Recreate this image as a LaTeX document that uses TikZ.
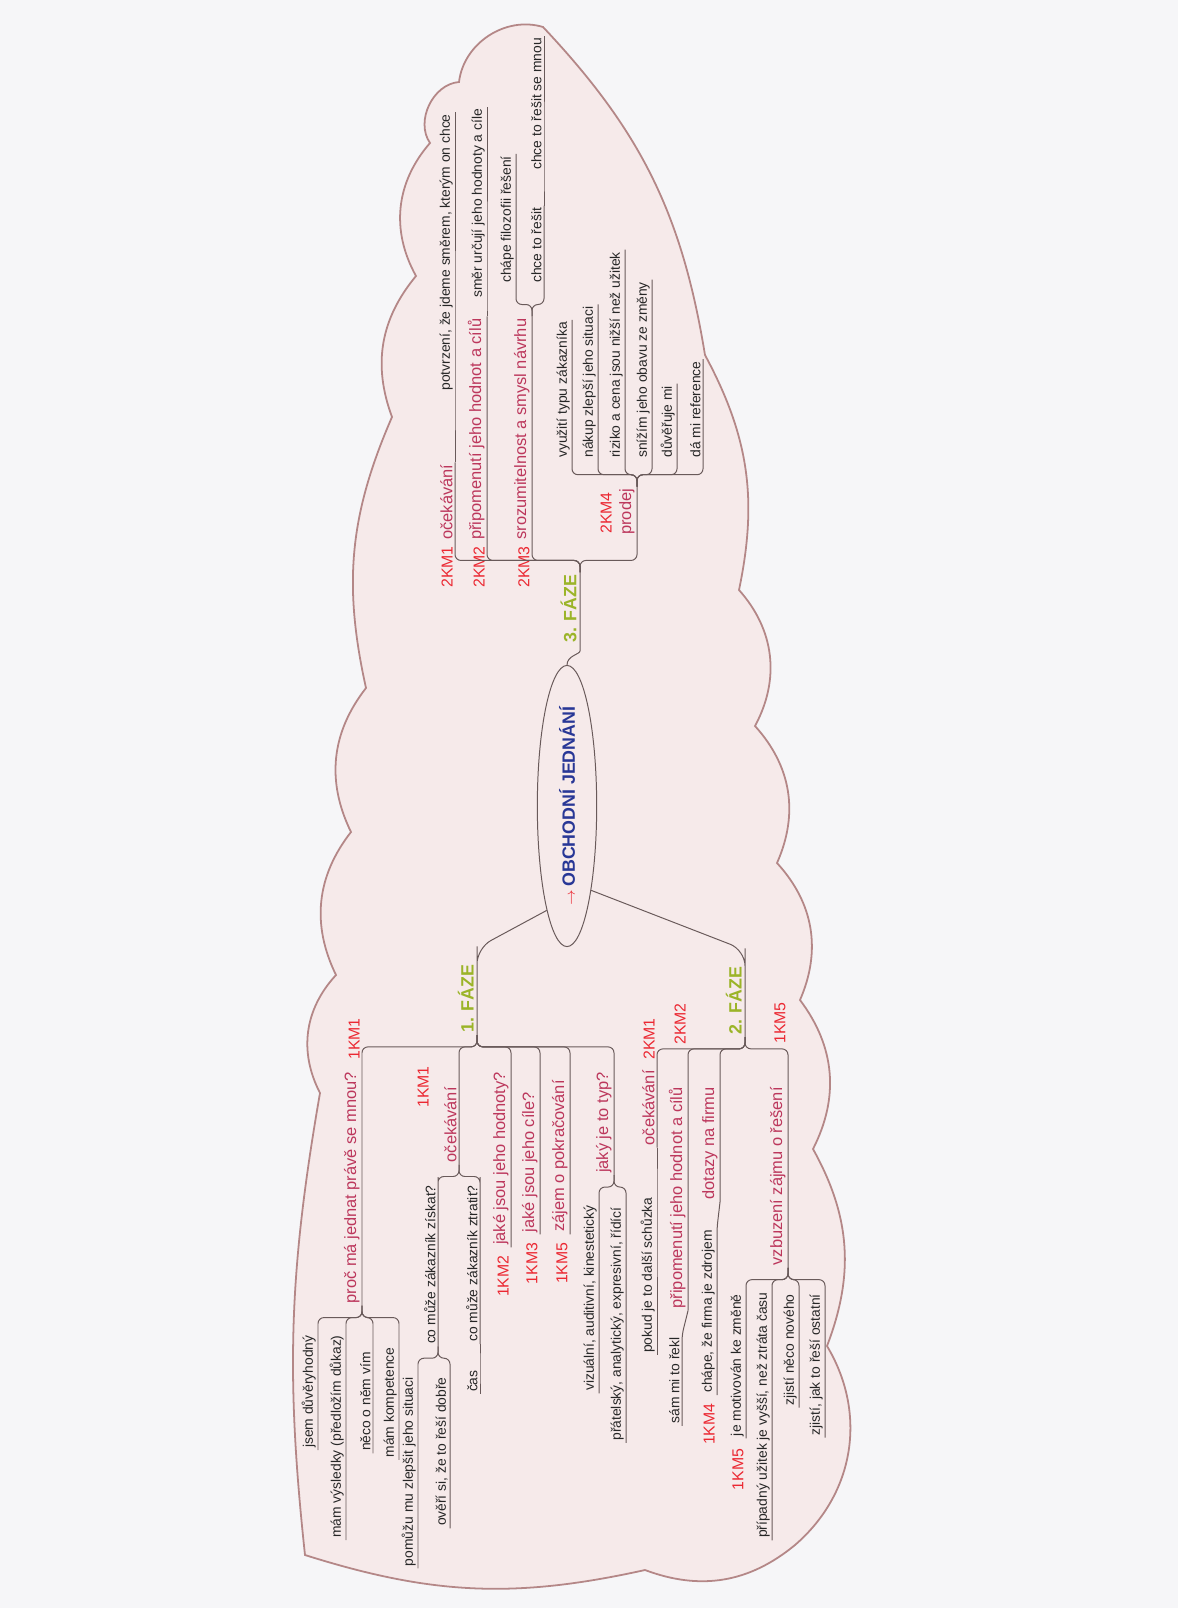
\documentclass[tikz,border=0pt]{standalone}
\usepackage{fontspec}
\setmainfont{Liberation Sans}
\usetikzlibrary{shapes.geometric}

\definecolor{pagec}{RGB}{246,246,248}
\definecolor{cloudfill}{RGB}{246,234,234}
\definecolor{clouddraw}{RGB}{180,135,135}
\definecolor{linec}{RGB}{105,90,90}
\definecolor{keyc}{RGB}{188,55,92}
\definecolor{redc}{RGB}{235,40,50}
\definecolor{fazec}{RGB}{155,180,40}
\definecolor{rootc}{RGB}{40,55,150}

\tikzset{
  conn/.style={draw=linec, line width=0.5pt, rounded corners=3pt},
  txt/.style={rotate=90, anchor=south west, inner xsep=1pt, inner ysep=1pt,
    text=black!85, font=\fontsize{7}{8}\selectfont},
  key/.style={txt, text=keyc, font=\fontsize{8.3}{9}\selectfont},
  km/.style={rotate=90, inner xsep=1pt, inner ysep=1pt, text=redc,
    font=\fontsize{8}{9}\selectfont},
  faze/.style={txt, inner ysep=1.5pt, text=fazec, font=\fontsize{9}{10}\selectfont\bfseries},
  root/.style={ellipse, draw=linec, line width=0.5pt, fill=cloudfill, rotate=90,
    minimum width=135pt, minimum height=30pt, inner sep=0pt, text=rootc,
    font=\fontsize{9}{10}\selectfont\bfseries},
}

\begin{document}
\begin{tikzpicture}[x=0.5054pt, y=0.5054pt]
\useasboundingbox (0,0) rectangle (1178,-1608);
\fill[pagec] (0,0) rectangle (1178,-1608);

% cloud
\filldraw[fill=cloudfill, draw=clouddraw, line width=0.9pt]
  (543,-27) to[bend left=17] (705,-355) to[bend left=20] (739,-590)
  to[bend left=35] (755,-726) to[bend left=33] (777,-863)
  to[bend left=33] (800,-1000) to[bend left=32] (813,-1149)
  to[bend left=25] (827,-1346) to[bend left=40] (795,-1545)
  to[bend left=30] (645,-1570) to[bend left=15] (305,-1555)
  to[bend left=8] (320,-1093) to[bend left=35] (336,-975)
  to[bend left=32] (351,-832) to[bend left=32] (366,-688)
  to[bend left=18] (392,-417) to[bend left=30] (416,-276)
  to[bend left=35] (430,-143) to[bend left=60] (459,-82)
  to[bend left=50] (543,-27) -- cycle;

% centre
\node[root] (root) at (567,-806) {\textcolor{redc}{\scriptsize$\rightarrow$}\,OBCHODNÍ JEDNÁNÍ};

% phases
\node[faze] (ph3) at (580,-645) {3. FÁZE};
\node[faze] (ph1) at (477,-1035) {1. FÁZE};
\node[faze] (ph2) at (745,-1037) {2. FÁZE};
\coordinate (k1) at (477,-948);
\coordinate (k2) at (745,-950);

% 3. faze
\node[key] (oc3) at (455,-542) {očekávání};
\node[txt] (oc3a) at (455,-393) {potvrzení, že jdeme směrem, kterým on chce};
\node[key] (pri3) at (487,-542) {připomenutí jeho hodnot a cílů};
\node[txt] (pri3a) at (487,-300) {směr určují jeho hodnoty a cíle};
\node[key] (sro) at (532,-542) {srozumitelnost a smysl návrhu};
\node[txt] (sro1) at (516,-285) {chápe filozofii řešení};
\node[txt] (sro2) at (544,-285) {chce to řešit};
\node[txt] (sro3) at (544,-172) {chce to řešit se mnou};
\node[key] (prod) at (637,-537) {prodej};
\foreach \n/\xx/\t in {p1/572/využití typu zákazníka, p2/598/nákup zlepší jeho situaci,
    p3/625/riziko a cena jsou nižší než užitek, p4/652/snížím jeho obavu ze změny,
    p5/677/důvěřuje mi, p6/703/dá mi reference}
  \node[txt] (\n) at (\xx,-460) {\t};

\node[km, anchor=south east] (l31) at ([yshift=-1pt]oc3.south west) {2KM1};
\node[km, anchor=south east] (l32) at ([yshift=-1pt]pri3.south west) {2KM2};
\node[km, anchor=south east] (l33) at ([yshift=-1pt]sro.south west) {2KM3};
\node[km, anchor=south west] (l34) at (614,-536) {2KM4};

% 1. faze
\node[key, anchor=south east] (proc) at (362,-1070) {proč má jednat právě se mnou?};
\node[txt, anchor=south east] (pr1) at (318,-1333) {jsem důvěryhodný};
\node[txt, anchor=south east] (pr2) at (346,-1333) {mám výsledky (předložím důkaz)};
\node[txt, anchor=south east] (pr3) at (373,-1350) {něco o něm vím};
\node[txt, anchor=south east] (pr4) at (399,-1345) {mám kompetence};
\node[key, anchor=south east] (oc1) at (459,-1085) {očekávání};
\node[txt, anchor=south east] (zis) at (438,-1183) {co může zákazník získat?};
\node[txt, anchor=south east] (zis1) at (418,-1375) {pomůžu mu zlepšit jeho situaci};
\node[txt, anchor=south east] (zis2) at (450,-1375) {ověří si, že to řeší dobře};
\node[txt, anchor=south east] (ztr) at (480,-1183) {co může zákazník ztratit?};
\node[txt, anchor=south east] (cas) at (480,-1368) {čas};
\node[key, anchor=south east] (hod) at (511,-1070) {jaké jsou jeho hodnoty?};
\node[key, anchor=south east] (cil) at (540,-1090) {jaké jsou jeho cíle?};
\node[key, anchor=south east] (zaj) at (570,-1078) {zájem o pokračování};
\node[key, anchor=south east] (typ) at (614,-1070) {jaký je to typ?};
\node[txt, anchor=south east] (typ1) at (599,-1203) {vizuální, auditivní, kinestetický};
\node[txt, anchor=south east] (typ2) at (626,-1205) {přátelský, analytický, expresivní, řídící};

\node[km, anchor=south west] (l11) at ([yshift=4pt]proc.south east) {1KM1};
\node[km, anchor=south west] (l12) at (431,-1110) {1KM1};
\node[km, anchor=south east] (l13) at ([yshift=-3pt]hod.south west) {1KM2};
\node[km, anchor=south east] (l14) at ([yshift=-3pt]cil.south west) {1KM3};
\node[km, anchor=south east] (l15) at ([yshift=-3pt]zaj.south west) {1KM5};

% 2. faze
\node[key, anchor=south east] (oc2) at (657,-1068) {očekávání};
\node[txt, anchor=south east] (oc2a) at (657,-1195) {pokud je to další schůzka};
\node[key, anchor=south east] (pri2) at (688,-1085) {připomenutí jeho hodnot a cílů};
\node[txt, anchor=south east] (pri2a) at (682,-1335) {sám mi to řekl};
\node[key, anchor=south east] (dot) at (720,-1085) {dotazy na firmu};
\node[txt, anchor=south east] (dota) at (717,-1228) {chápe, že firma je zdrojem};
\node[key, anchor=south east] (vzb) at (788,-1085) {vzbuzení zájmu o řešení};
\node[txt, anchor=south east] (v1) at (746,-1292) {je motivován ke změně};
\node[txt, anchor=south east] (v2) at (772,-1290) {případný užitek je vyšší, než ztráta času};
\node[txt, anchor=south east] (v3) at (799,-1292) {zjistí něco nového};
\node[txt, anchor=south east] (v4) at (825,-1292) {zjistí, jak to řeší ostatní};

\node[km, anchor=south west] (l21) at ([yshift=3pt]oc2.south east) {2KM1};
\node[km, anchor=south west] (l22) at (688,-1047) {2KM2};
\node[km, anchor=south east] (l23) at ([yshift=-3pt]dota.south west) {1KM4};
\node[km, anchor=south west] (l24) at (788,-1046) {1KM5};
\node[km, anchor=south east] (l25) at ([yshift=-4pt]v1.south west) {1KM5};

% connectors from the centre
\draw[conn] (root.east) to[out=90,in=-90] (ph3.south west) -- (ph3.south east);
\draw[conn, rounded corners=8pt] (root.169) -- (k1) -- (ph1.south east) -- (ph1.south west);
\draw[conn, rounded corners=8pt] (root.196) -- (k2) -- (ph2.south east) -- (ph2.south west);

% 3. faze branches
\coordinate (fk3) at ([yshift=6pt]ph3.south east);
\foreach \n in {oc3,pri3,sro,prod}
  \draw[conn] (ph3.south east) -- (fk3) -| (\n.south west) -- (\n.south east);
\draw[conn] (oc3.south east) -- (oc3a.south west) -- (oc3a.south east);
\draw[conn] (pri3.south east) -- (pri3a.south west) -- (pri3a.south east);
\coordinate (fks) at ([yshift=6pt]sro.south east);
\foreach \n in {sro1,sro2}
  \draw[conn] (sro.south east) -- (fks) -| (\n.south west) -- (\n.south east);
\draw[conn] (sro2.south east) -- (sro3.south west) -- (sro3.south east);
\coordinate (fkp) at ([yshift=6pt]prod.south east);
\foreach \n in {p1,p2,p3,p4,p5,p6}
  \draw[conn] (prod.south east) -- (fkp) -| (\n.south west) -- (\n.south east);

% 1. faze branches
\coordinate (fk1) at ([yshift=-6pt]ph1.south west);
\foreach \n in {proc,oc1,hod,cil,zaj,typ}
  \draw[conn] (ph1.south west) -- (fk1) -| (\n.south east) -- (\n.south west);
\coordinate (fkr) at ([yshift=-6pt]proc.south west);
\foreach \n in {pr1,pr2,pr3,pr4}
  \draw[conn] (proc.south west) -- (fkr) -| (\n.south east) -- (\n.south west);
\coordinate (fko) at ([yshift=-6pt]oc1.south west);
\foreach \n in {zis,ztr}
  \draw[conn] (oc1.south west) -- (fko) -| (\n.south east) -- (\n.south west);
\coordinate (fkz) at ([yshift=-6pt]zis.south west);
\foreach \n in {zis1,zis2}
  \draw[conn] (zis.south west) -- (fkz) -| (\n.south east) -- (\n.south west);
\draw[conn] (ztr.south west) -- (cas.south east) -- (cas.south west);
\coordinate (fkt) at ([yshift=-6pt]typ.south west);
\foreach \n in {typ1,typ2}
  \draw[conn] (typ.south west) -- (fkt) -| (\n.south east) -- (\n.south west);

% 2. faze branches
\coordinate (fk2) at ([yshift=-6pt]ph2.south west);
\foreach \n in {oc2,pri2,dot,vzb}
  \draw[conn] (ph2.south west) -- (fk2) -| (\n.south east) -- (\n.south west);
\draw[conn] (oc2.south west) -- (oc2a.south east) -- (oc2a.south west);
\draw[conn] (pri2.south west) -- (pri2a.south east) -- (pri2a.south west);
\draw[conn] (dot.south west) -- (dota.south east) -- (dota.south west);
\coordinate (fkv) at ([yshift=-6pt]vzb.south west);
\foreach \n in {v1,v2,v3,v4}
  \draw[conn] (vzb.south west) -- (fkv) -| (\n.south east) -- (\n.south west);
\end{tikzpicture}
\end{document}
